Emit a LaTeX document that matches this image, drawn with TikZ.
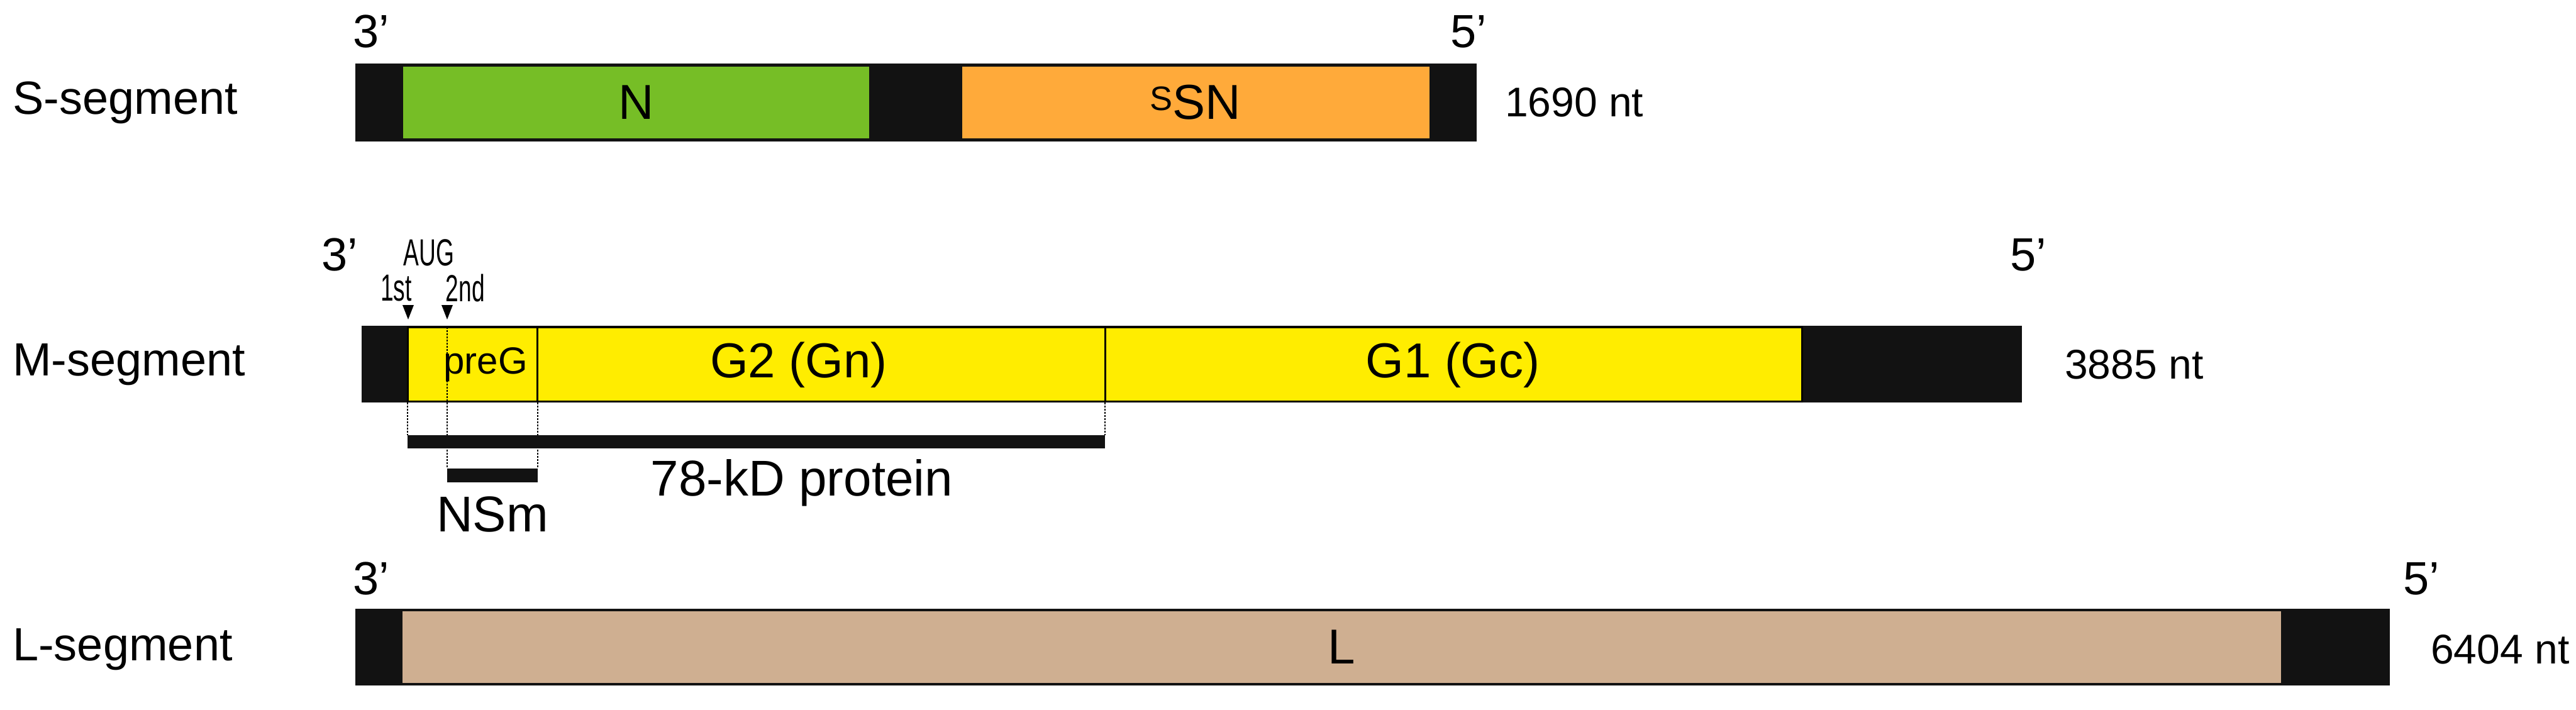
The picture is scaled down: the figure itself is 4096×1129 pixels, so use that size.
\documentclass[tikz,border=0pt]{standalone}
\usepackage{fontspec}
\setmainfont{Liberation Sans}
\begin{document}
\begin{tikzpicture}[x=1pt,y=-1pt,
  blk/.style={fill=black!93,draw=none},
  lab/.style={font=\fontsize{74}{74}\selectfont,inner sep=0},
  box/.style={draw=none,minimum height=114,inner sep=0,font=\fontsize{78}{78}\selectfont},
  cond/.style={font=\fontsize{60}{60}\selectfont,inner sep=0},
  nt/.style={font=\fontsize{66}{66}\selectfont,inner sep=0,anchor=west},
  dl/.style={densely dashed,line width=2.5pt}]
\useasboundingbox (0,0) rectangle (4096,1129);
% S segment
\node[lab,anchor=west] (sl) at (20,163) {S-segment};
\fill[blk] (565,101) rectangle (2348,225);
\node[box,fill={rgb,255:red,118;green,190;blue,38},minimum width=741] (sn) at (1011.5,163) {N};
\node[box,fill={rgb,255:red,255;green,170;blue,58},minimum width=743] (ssn) at (1901,163) {\raisebox{0.35ex}{\fontsize{54}{54}\selectfont S}SN};
\node[lab] (s3) at (590,50) {3’};
\node[lab] (s5) at (2335,50) {5’};
\node[nt] (snt) at (2393,163) {1690 nt};
% M segment
\node[lab,anchor=west] (ml) at (20,580) {M-segment};
\fill[blk] (575,518) rectangle (3215,640);
\node[draw,line width=3pt,fill={rgb,255:red,255;green,237;blue,0},minimum width=2217,minimum height=118,inner sep=0] (my) at (1756.5,579) {};
\draw[line width=3pt] (854,520) -- (854,638);
\draw[line width=3pt] (1757,520) -- (1757,638);
\node[cond] (preg) at (772,580) {preG};
\node[box] (g2) at (1270,580) {G2 (Gn)};
\node[box] (g1) at (2310,580) {G1 (Gc)};
\node[lab] (m3) at (540,405) {3’};
\node[lab] (m5) at (3225,405) {5’};
\node[nt] (mnt) at (3283,580) {3885 nt};
\node[cond] (aug) at (682,402) {\scalebox{0.62}[1]{AUG}};
\node[cond] (a1) at (630,458) {\scalebox{0.62}[1]{1st}};
\node[cond] (a2) at (740,458) {\scalebox{0.62}[1]{2nd}};
\fill (640,485) -- (658,485) -- (649,508) -- cycle;
\fill (702,485) -- (720,485) -- (711,508) -- cycle;
\draw[dl] (711,520) -- (711,745);
\draw[dl] (648,640) -- (648,692);
\draw[dl] (855,640) -- (855,745);
\draw[dl] (1757,640) -- (1757,692);
\fill[blk] (648,692) rectangle (1757,713);
\fill[blk] (711,745) rectangle (855,767);
\node[lab,font=\fontsize{80}{80}\selectfont] (kd) at (1275,768) {78-kD protein};
\node[lab,font=\fontsize{80}{80}\selectfont] (nsm) at (783,818) {NSm};
% L segment
\node[lab,anchor=west] (ll) at (20,1033) {L-segment};
\fill[blk] (565,968) rectangle (3800,1090);
\node[box,fill={rgb,255:red,207;green,175;blue,145},minimum width=2987] (lbox) at (2133.5,1029) {L};
\node[lab] (l3) at (590,920) {3’};
\node[lab] (l5) at (3850,920) {5’};
\node[nt] (lnt) at (3865,1033) {6404 nt};
\end{tikzpicture}
\end{document}
